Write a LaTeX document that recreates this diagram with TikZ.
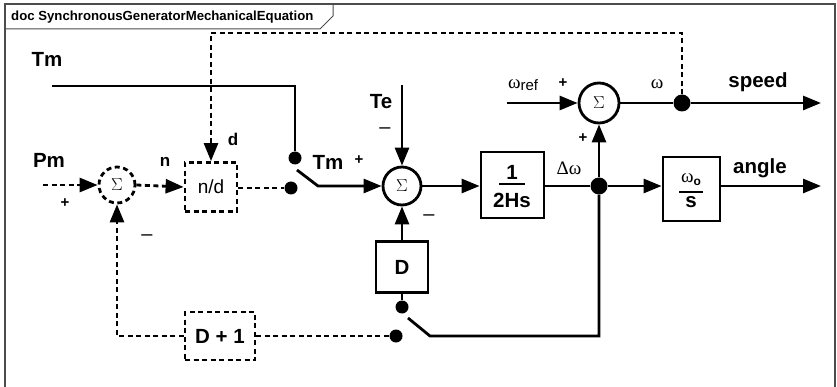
\documentclass[tikz,border=0pt]{standalone}
\usepackage{fontspec}
\setmainfont{Liberation Sans}
\newfontfamily\serifw{Liberation Serif}
\usetikzlibrary{arrows.meta}
\begin{document}
\begin{tikzpicture}[x=1pt,y=-1pt,
  wire/.style={line width=2.8pt},
  dwire/.style={line width=2.8pt, dash pattern=on 5pt off 3.5pt},
  arr/.style={-{Triangle[length=18pt,width=14pt]}},
  sumnode/.style={circle, draw, line width=2.8pt, minimum size=38pt, inner sep=0pt, font=\fontsize{16}{16}\selectfont},
  blk/.style={draw, line width=2.8pt, inner sep=0pt, font=\bfseries\fontsize{20.5}{22}\selectfont},
  dblk/.style={blk, dash pattern=on 5pt off 3.5pt},
  dot/.style={circle, fill, inner sep=0pt, minimum size=13pt},
  bigdot/.style={circle, fill, inner sep=0pt, minimum size=17pt},
  lbl/.style={font=\bfseries\fontsize{20.5}{22}\selectfont, inner sep=0pt},
  slbl/.style={font=\bfseries\fontsize{17}{18}\selectfont, inner sep=0pt},
  pl/.style={font=\bfseries\fontsize{15}{16}\selectfont, inner sep=0pt},
  mn/.style={font=\fontsize{20}{20}\selectfont, inner sep=0pt},
  wl/.style={font=\serifw\fontsize{19}{20}\selectfont, inner sep=0pt}
]
\useasboundingbox (0,0) rectangle (837,387);
% frame
\draw[line width=1.3pt, black!70] (5,387) -- (5,4) -- (835,4) -- (835,387);
\draw[line width=1pt, black!70] (5,29) -- (320,29) -- (333,16) -- (333,4);
\node[anchor=west, inner sep=0pt, font=\bfseries\fontsize{13.2}{14}\selectfont] (title) at (11,17) {doc SynchronousGeneratorMechanicalEquation};

% nodes
\node[sumnode, dash pattern=on 5pt off 3.5pt, minimum size=36pt] (sum1) at (117,185) {$\Sigma$};
\node[dblk, minimum width=52pt, minimum height=49pt, font=\fontsize{19}{20}\selectfont] (nd) at (211,187) {n/d};
\node[dot] (dotA) at (295,158) {};
\node[dot] (dotB) at (291,188) {};
\node[sumnode] (sum2) at (402,186) {$\Sigma$};
\node[blk, minimum width=52pt, minimum height=51pt] (D) at (402,267) {D};
\node[dot] (dotC) at (402,307) {};
\node[dot] (dotD) at (396,336) {};
\node[dblk, minimum width=70pt, minimum height=48pt] (Dp1) at (220,336) {D + 1};
\node[blk, minimum width=63pt, minimum height=66pt] (H) at (512.5,185) {};
\node[lbl] (h1) at (512,172) {1};
\draw[line width=2.4pt] (499,184) -- (525,184);
\node[lbl] (h2) at (512,200) {2Hs};
\node[bigdot] (J) at (599,186) {};
\node[sumnode, minimum size=40pt] (sum3) at (599,103) {$\Sigma$};
\node[bigdot] (W) at (682,103) {};
\node[blk, minimum width=57pt, minimum height=64pt] (w0) at (691.5,189) {};
\node[inner sep=0pt] (w0t) at (691,180) {{\serifw\fontsize{19}{20}\selectfont ω}\raisebox{-3pt}{\bfseries\fontsize{12}{12}\selectfont o}};
\draw[line width=2.4pt] (679,192) -- (703,192);
\node[lbl] (w0b) at (691,202) {s};

% coordinates
\coordinate (tmstart) at (52,86);
\coordinate (pmstart) at (43,185);
\coordinate (sw1a) at (297,170);
\coordinate (sw1b) at (318,186);
\coordinate (te) at (402,85);
\coordinate (sw2a) at (408,318);
\coordinate (sw2b) at (430,336);
\coordinate (wref) at (507,103);
\coordinate (tc) at (682,33);
\coordinate (speedend) at (821,103);
\coordinate (angleend) at (821,186);

% connectors
\draw[wire] (tmstart) -| (dotA);
\draw[dwire,arr] (pmstart) -- (sum1.west);
\draw[dwire,arr] (sum1.east) -- (nd.west);
\draw[dwire] (nd.east |- dotB) -- (dotB);
\draw[wire,arr] (sw1a) -- (sw1b) -- (sum2.west);
\draw[wire,arr] (te) -- (sum2.north);
\draw[wire,arr] (D.north) -- (sum2.south);
\draw[wire] (D.south) -- (dotC);
\draw[wire] (sw2a) -- (sw2b) -| (J);
\draw[dwire] (Dp1.east) -- (dotD);
\draw[dwire,arr] (Dp1.west) -| (sum1.south);
\draw[wire,arr] (sum2.east) -- (H.west |- sum2);
\draw[wire] (H.east |- J) -- (J);
\draw[wire,arr] (J) -- (J -| w0.west);
\draw[wire,arr] (J) -- (sum3.south);
\draw[wire,arr] (wref) -- (sum3.west);
\draw[wire] (sum3.east) -- (W);
\draw[wire,arr] (W) -- (speedend);
\draw[wire,arr] (w0.east |- J) -- (angleend);
\draw[dwire,arr] (W.north) -- (tc) -| (nd.north);

% labels
\node[lbl] (lTm) at (47,59) {Tm};
\node[lbl] (lPm) at (49,160) {Pm};
\node[pl] (lPmp) at (65,203) {+};
\node[slbl] (ln) at (165,162) {n};
\node[slbl] (ld) at (233,139) {d};
\node[mn] (lm1) at (147,238) {–};
\node[lbl] (lTm2) at (328,162) {Tm};
\node[pl] (lTmp) at (359,160) {+};
\node[lbl] (lTe) at (381,102) {Te};
\node[mn] (lTem) at (385,131) {–};
\node[mn] (lDm) at (429,218) {–};
\node[inner sep=0pt] (lwref) at (523,85) {{\serifw\fontsize{19}{20}\selectfont ω}\raisebox{-2pt}{\fontsize{15}{16}\selectfont ref}};
\node[pl] (lwp) at (563,83) {+};
\node[pl] (ldp) at (583,138) {+};
\node[wl] (ldw) at (569,168) {Δω};
\node[wl] (lw) at (657,84) {ω};
\node[lbl] (lspeed) at (758,82) {speed};
\node[lbl] (langle) at (760,168) {angle};
\end{tikzpicture}
\end{document}
